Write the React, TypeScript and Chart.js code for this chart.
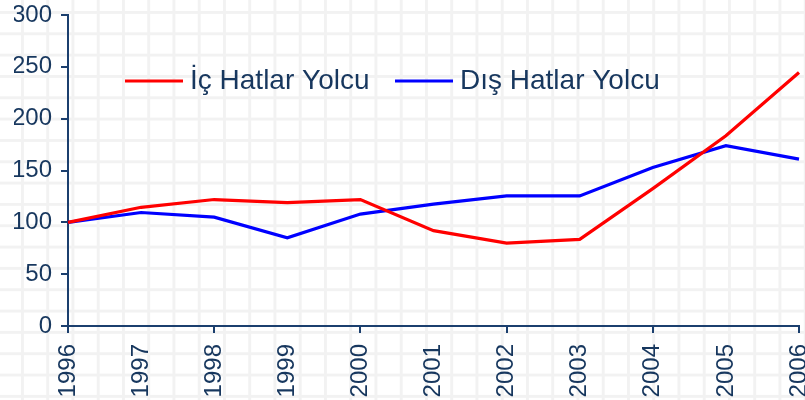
import React, { useEffect, useRef } from "react";
import { Chart, registerables } from "chart.js";

Chart.register(...registerables);

const years = ["1996", "1997", "1998", "1999", "2000", "2001", "2002", "2003", "2004", "2005", "2006"];
const icHatlar = [100, 114.5, 122, 119, 122, 92, 80, 83.5, 132.5, 183.5, 244.5];
const disHatlar = [100, 109.5, 105, 85, 108, 117.5, 125.5, 125.5, 153, 174, 161];
const seriesLabels = ["İç Hatlar Yolcu", "Dış Hatlar Yolcu"];
const yMin = 0;
const yMax = 300;
const yStep = 50;

const NAVY = "#1b3f6e";
const TEXT = "#17375e";
const FONT = '"Liberation Sans", Arial, sans-serif';
const LEGEND_X = [125, 395];
const LEGEND_Y = 81;

const inlineLegend = {
  id: "inlineLegend",
  afterDraw(chart: any) {
    const ctx = chart.ctx;
    ctx.save();
    ctx.font = `28px ${FONT}`;
    ctx.textBaseline = "middle";
    ctx.textAlign = "left";
    chart.data.datasets.forEach((ds: any, i: number) => {
      const x = LEGEND_X[i];
      ctx.strokeStyle = ds.borderColor;
      ctx.lineWidth = 3;
      ctx.beginPath();
      ctx.moveTo(x, LEGEND_Y);
      ctx.lineTo(x + 58, LEGEND_Y);
      ctx.stroke();
      ctx.fillStyle = TEXT;
      ctx.fillText(ds.label, x + 65, LEGEND_Y);
    });
    ctx.restore();
  },
};

export default function App() {
  const ref = useRef<HTMLCanvasElement | null>(null);

  useEffect(() => {
    if (!ref.current) return;
    const chart = new Chart(ref.current, {
      type: "line",
      data: {
        labels: years,
        datasets: [
          {
            label: seriesLabels[0],
            data: icHatlar,
            borderColor: "#ff0000",
            backgroundColor: "#ff0000",
            borderWidth: 3.2,
            pointRadius: 0,
            tension: 0,
          },
          {
            label: seriesLabels[1],
            data: disHatlar,
            borderColor: "#0000ff",
            backgroundColor: "#0000ff",
            borderWidth: 3.2,
            pointRadius: 0,
            tension: 0,
          },
        ],
      },
      options: {
        responsive: false,
        animation: false,
        devicePixelRatio: 1,
        layout: { padding: { left: 14, top: 15, right: 6, bottom: 0 } },
        plugins: {
          legend: { display: false },
          tooltip: { enabled: false },
        },
        scales: {
          x: {
            offset: false,
            border: { color: NAVY, width: 2 },
            grid: {
              drawOnChartArea: false,
              drawTicks: true,
              tickLength: 7,
              lineWidth: 2,
              color: (c: any) => (c.index % 2 === 0 ? NAVY : "rgba(0,0,0,0)"),
            },
            ticks: {
              autoSkip: false,
              minRotation: 90,
              maxRotation: 90,
              padding: 11,
              color: TEXT,
              font: { size: 24, family: FONT },
            },
            afterFit: (s: any) => {
              s.height = 74;
              s.paddingLeft = 0;
              s.paddingRight = 0;
            },
          },
          y: {
            min: yMin,
            max: yMax,
            border: { color: NAVY, width: 2 },
            grid: {
              drawOnChartArea: false,
              drawTicks: true,
              tickLength: 7,
              lineWidth: 2,
              color: NAVY,
            },
            ticks: {
              stepSize: yStep,
              padding: 9,
              color: TEXT,
              font: { size: 24, family: FONT },
            },
            afterFit: (s: any) => {
              s.width = 54;
              s.paddingTop = 0;
              s.paddingBottom = 0;
            },
          },
        },
      },
      plugins: [inlineLegend],
    });
    return () => chart.destroy();
  }, []);

  return (
    <div
      style={{
        position: "absolute",
        left: 0,
        top: 0,
        width: 805,
        height: 400,
        overflow: "hidden",
        backgroundColor: "#ffffff",
        backgroundImage:
          "linear-gradient(to right, #f2f2f2 3px, transparent 3px), linear-gradient(to bottom, #f2f2f2 3px, transparent 3px)",
        backgroundSize: "25.25px 21.33px",
        backgroundPosition: "21px 11px",
      }}
    >
      <canvas ref={ref} width={805} height={400} style={{ display: "block" }} />
    </div>
  );
}
